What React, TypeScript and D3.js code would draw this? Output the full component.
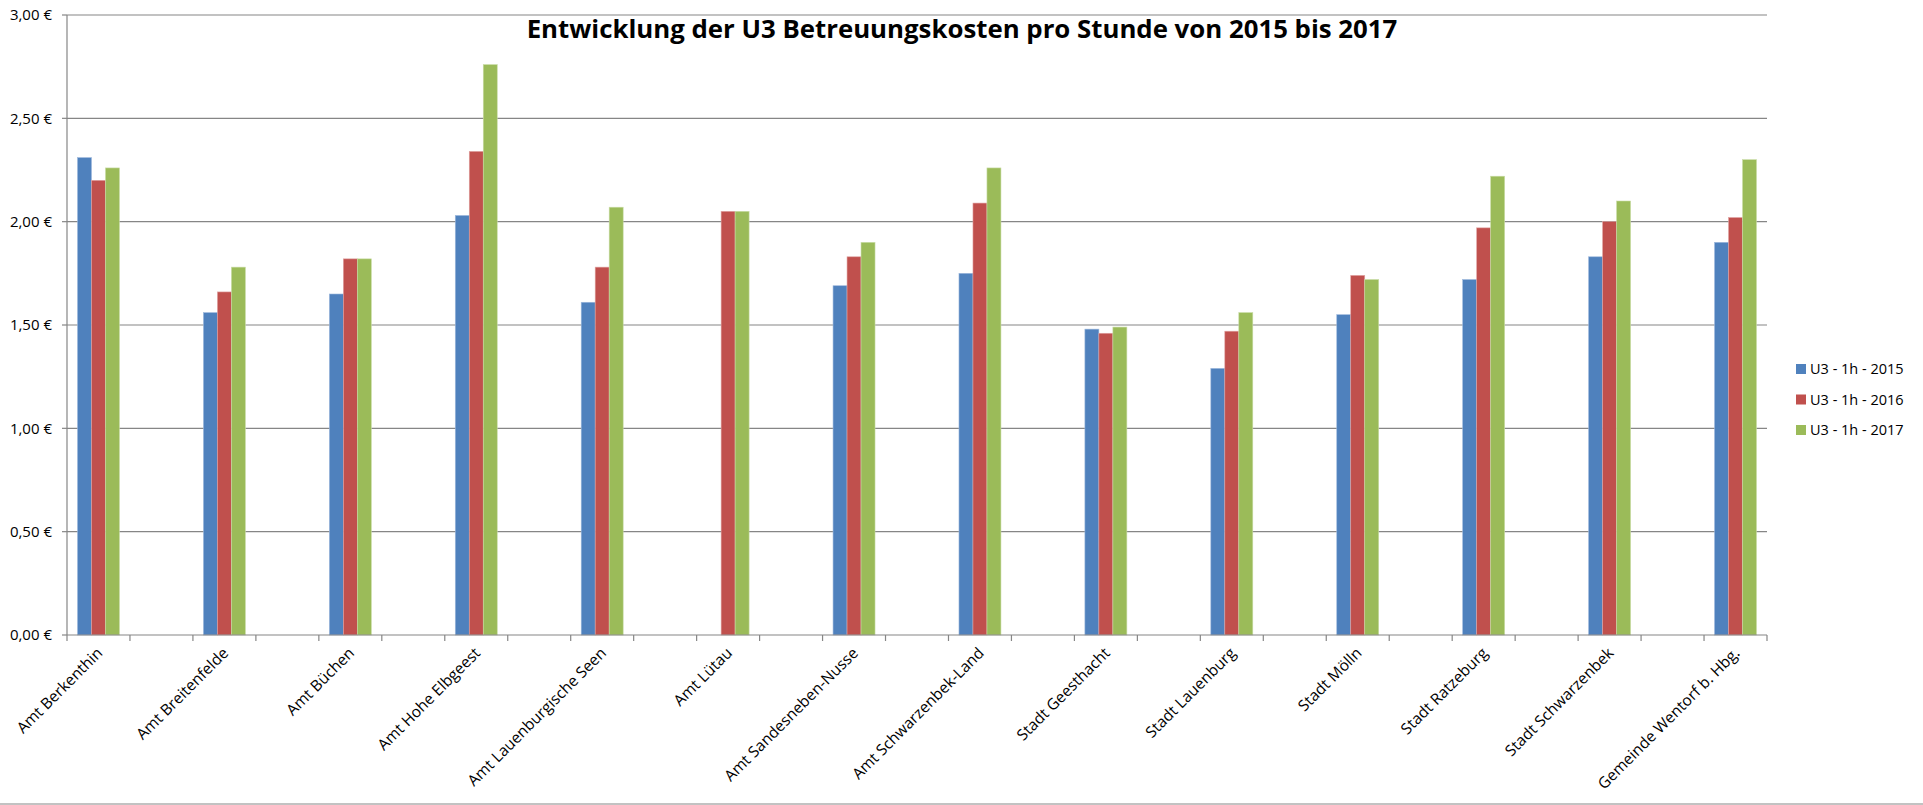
import React from "react";
import * as d3 from "d3";

const categories = [
  "Amt Berkenthin",
  "Amt Breitenfelde",
  "Amt Büchen",
  "Amt Hohe Elbgeest",
  "Amt Lauenburgische Seen",
  "Amt Lütau",
  "Amt Sandesneben-Nusse",
  "Amt Schwarzenbek-Land",
  "Stadt Geesthacht",
  "Stadt Lauenburg",
  "Stadt Mölln",
  "Stadt Ratzeburg",
  "Stadt Schwarzenbek",
  "Gemeinde Wentorf b. Hbg.",
];

const seriesNames = ["U3 - 1h - 2015", "U3 - 1h - 2016", "U3 - 1h - 2017"];

const values2015: (number | null)[] = [2.31, 1.56, 1.65, 2.03, 1.61, null, 1.69, 1.75, 1.48, 1.29, 1.55, 1.72, 1.83, 1.9];
const values2016: (number | null)[] = [2.2, 1.66, 1.82, 2.34, 1.78, 2.05, 1.83, 2.09, 1.46, 1.47, 1.74, 1.97, 2.0, 2.02];
const values2017: (number | null)[] = [2.26, 1.78, 1.82, 2.76, 2.07, 2.05, 1.9, 2.26, 1.49, 1.56, 1.72, 2.22, 2.1, 2.3];

const yTicks = [0, 0.5, 1, 1.5, 2, 2.5, 3];
const colors = ["#4F81BD", "#C0504D", "#9BBB59"];
const strokes = ["#9DB8DC", "#E0A3A2", "#C9DCA6"];

const title = "Entwicklung der U3 Betreuungskosten pro Stunde von 2015 bis 2017";

const W = 1923;
const H = 805;
const left = 67;
const right = 1767;
const top = 15;
const bottom = 635;
const FONT = "'Open Sans', 'Liberation Sans', sans-serif";

export default function App() {
  const seriesValues = [values2015, values2016, values2017];
  // slots: categories interleaved with empty slots
  const slots: string[] = [];
  categories.forEach((c, i) => {
    if (i > 0) slots.push("");
    slots.push(c);
  });
  const slotIdx = slots.map((_, i) => String(i));

  const x = d3.scaleBand<string>().domain(slotIdx).range([left, right]).padding(0);
  const bw = x.bandwidth();
  const xs = d3.scaleBand<string>().domain(seriesNames).range([0, bw]).paddingInner(0).paddingOuter(0.75);
  const y = d3.scaleLinear().domain([0, 3]).range([bottom, top]);

  const loc = d3.formatLocale({ decimal: ",", thousands: ".", grouping: [3], currency: ["", " €"] });
  const fmt = loc.format("$.2f");

  const boundaries = d3.range(slots.length + 1).map((i) => left + i * bw);

  return (
    <svg width={W} height={H} style={{ position: "absolute", left: 0, top: 0, background: "#fff" }} fontFamily={FONT}>
      <rect x={0} y={0} width={W} height={H} fill="#fff" />
      {/* gridlines */}
      {yTicks.map((t) => (
        <g key={"g" + t}>
          {t > 0 && <line x1={left} x2={right} y1={y(t)} y2={y(t)} stroke="#868686" strokeWidth={1.2} />}
          <line x1={left - 5} x2={left} y1={y(t)} y2={y(t)} stroke="#868686" strokeWidth={1.2} />
          <text x={52} y={y(t)} dy="0.35em" textAnchor="end" fontSize={15} fill="#000">
            {fmt(t)}
          </text>
        </g>
      ))}
      {/* bars */}
      {seriesValues.map((vals, si) =>
        vals.map((v, ci) => {
          if (v == null) return null;
          const sx = (x(String(ci * 2)) as number) + (xs(seriesNames[si]) as number);
          return (
            <rect
              key={si + "-" + ci}
              x={sx}
              y={y(v)}
              width={xs.bandwidth()}
              height={y(0) - y(v)}
              fill={colors[si]}
              stroke={strokes[si]}
              strokeWidth={0.6}
            />
          );
        })
      )}
      {/* axes */}
      <line x1={left} x2={left} y1={top} y2={bottom} stroke="#868686" strokeWidth={1.2} />
      <line x1={left} x2={right} y1={bottom} y2={bottom} stroke="#868686" strokeWidth={1.2} />
      {boundaries.map((bx, i) => (
        <line key={"t" + i} x1={bx} x2={bx} y1={bottom} y2={bottom + 6} stroke="#868686" strokeWidth={1.2} />
      ))}
      {/* x labels */}
      {slots.map((s, i) =>
        s ? (
          <text
            key={"l" + i}
            transform={`translate(${(x(String(i)) as number) + bw / 2 + 5},${bottom + 19}) rotate(-45)`}
            textAnchor="end"
            fontSize={15.5}
            fill="#000"
          >
            {s}
          </text>
        ) : null
      )}
      {/* title */}
      <text x={962} y={38} textAnchor="middle" fontSize={25.8} fontWeight="bold" fill="#000">
        {title}
      </text>
      {/* legend */}
      {seriesNames.map((n, i) => (
        <g key={"lg" + i}>
          <rect x={1796} y={364 + i * 30.5} width={10} height={10} fill={colors[i]} />
          <text x={1810} y={369 + i * 30.5} dy="0.35em" fontSize={14.5} fill="#000">
            {n}
          </text>
        </g>
      ))}
      {/* chart border bottom */}
      <line x1={0} x2={W} y1={804} y2={804} stroke="#868686" strokeWidth={1.2} />
    </svg>
  );
}
